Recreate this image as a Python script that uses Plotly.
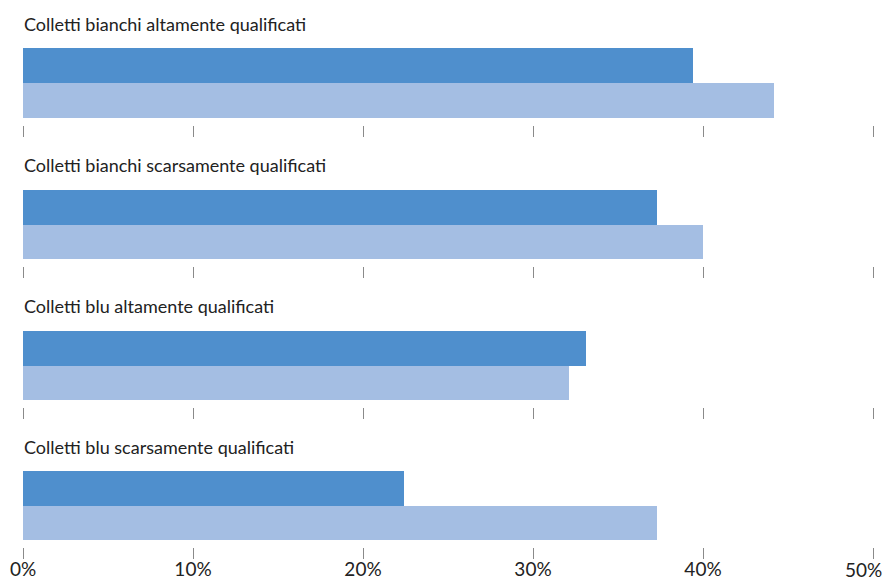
import plotly.graph_objects as go

categories = [
    "Colletti bianchi altamente qualificati",
    "Colletti bianchi scarsamente qualificati",
    "Colletti blu altamente qualificati",
    "Colletti blu scarsamente qualificati",
]
series_dark = [39.4, 37.3, 33.1, 22.4]
series_light = [44.2, 40.0, 32.1, 37.3]
tick_vals = [0, 10, 20, 30, 40, 50]
tick_labels = ["0%", "10%", "20%", "30%", "40%", "50%"]

W, H = 886, 581
DARK = "#4F8FCD"
LIGHT = "#A4BEE3"
FONT = "Lato, Open Sans, sans-serif"

bar_tops = [48, 190, 331, 471]
bar_bottoms = [118, 259, 400, 540]
title_y = [24, 165, 306, 447]
x0_px, x1_px = 23, 873

fig = go.Figure()
layout = dict(
    width=W, height=H, margin=dict(l=0, r=0, t=0, b=0),
    paper_bgcolor="white", plot_bgcolor="white",
    showlegend=False, bargap=0, barmode="overlay",
    font=dict(family=FONT, color="#222222"),
)
annotations = []
for i, cat in enumerate(categories):
    n = "" if i == 0 else str(i + 1)
    top, bot = bar_tops[i], bar_bottoms[i]
    axis_bot = bot + 7
    unit = (bot - top) / 2.0
    low = -0.5 - (axis_bot - bot) / unit
    fig.add_trace(go.Bar(x=[series_dark[i]], y=[1], width=1, orientation="h",
                         marker=dict(color=DARK, line=dict(width=0)),
                         xaxis="x" + n, yaxis="y" + n, name="Serie 1"))
    fig.add_trace(go.Bar(x=[series_light[i]], y=[0], width=1, orientation="h",
                         marker=dict(color=LIGHT, line=dict(width=0)),
                         xaxis="x" + n, yaxis="y" + n, name="Serie 2"))
    last = i == len(categories) - 1
    layout["xaxis" + n] = dict(
        domain=[x0_px / W, x1_px / W], range=[0, 50], anchor="y" + n,
        tickvals=tick_vals, ticktext=[t if t != "50%" else "" for t in tick_labels],
        showticklabels=last, ticks="outside", ticklen=11, tickwidth=1,
        tickcolor="#8a8a8a", showgrid=False, zeroline=False, showline=False,
        tickfont=dict(family=FONT, size=19, color="#222222"),
        ticklabelstandoff=-6,
        automargin=False, fixedrange=True,
    )
    layout["yaxis" + n] = dict(
        domain=[1 - axis_bot / H, 1 - top / H], range=[low, 1.5],
        anchor="x" + n, showticklabels=False, showgrid=False, zeroline=False,
        showline=False, ticks="", automargin=False, fixedrange=True,
    )
    annotations.append(dict(
        text=cat, x=x0_px / W - 0.001, y=1 - title_y[i] / H, xref="paper", yref="paper",
        xanchor="left", yanchor="middle", showarrow=False,
        font=dict(family=FONT, size=18, color="#222222"),
    ))

annotations.append(dict(
    text=tick_labels[-1], x=863 / W, y=1 - 569 / H, xref="paper", yref="paper",
    xanchor="center", yanchor="middle", showarrow=False, borderpad=0,
    font=dict(family=FONT, size=19, color="#222222"),
))
layout["annotations"] = annotations
fig.update_layout(**layout)
fig.write_html("out.html", config={"displayModeBar": False},
               post_script="document.body.style.margin='0px';document.body.style.overflow='hidden';")
